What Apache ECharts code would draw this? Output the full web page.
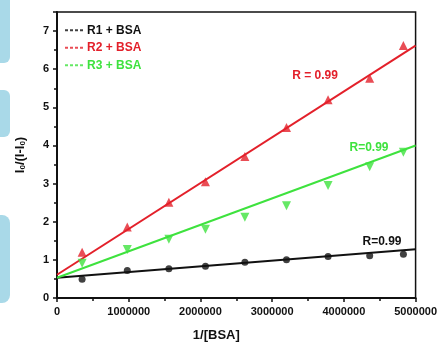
<!DOCTYPE html>
<html><head><meta charset="utf-8">
<script src="https://cdn.jsdelivr.net/npm/echarts@6/dist/echarts.min.js"></script>
<style>html,body{margin:0;padding:0;background:#fff}#c{width:440px;height:347px}</style>
</head><body><div id="c"></div>
<script>
const xVals = [350000, 980000, 1560000, 2070000, 2620000, 3200000, 3780000, 4360000, 4830000];
const r1Vals = [0.49, 0.72, 0.77, 0.83, 0.94, 1.00, 1.09, 1.11, 1.15];
const r2Vals = [1.20, 1.86, 2.51, 3.05, 3.71, 4.47, 5.20, 5.76, 6.62];
const r3Vals = [0.91, 1.27, 1.54, 1.80, 2.12, 2.42, 2.95, 3.44, 3.82];
const fitX = [0, 5000000];
const r1Fit = [0.53, 1.28];
const r2Fit = [0.61, 6.62];
const r3Fit = [0.53, 4.00];
const names = ['R1 + BSA', 'R2 + BSA', 'R3 + BSA'];
const colors = ['#111111', '#e3202a', '#3ee23e'];
const rLabels = ['R=0.99', 'R = 0.99', 'R=0.99'];

const pair = (xs, ys) => xs.map((x, i) => [x, ys[i]]);
const font = 'Liberation Sans, Arial, sans-serif';
const dash = 'path://M0,0h3v2h-3z M5,0h3v2h-3z M10,0h3v2h-3z M15,0h3v2h-3z';

const chart = echarts.init(document.getElementById('c'), null, {renderer: 'canvas'});
const symbols = ['circle', 'triangle', 'path://M0,0L10,0L5,9z'];
const sizes = [7, 9, 9];
const pts = [r1Vals, r2Vals, r3Vals];
const fits = [r1Fit, r2Fit, r3Fit];
const series = [];
for (let i = 0; i < 3; i++) {
  series.push({
    name: names[i], type: 'scatter', symbol: symbols[i], symbolSize: sizes[i],
    itemStyle: {color: colors[i]}, data: pair(xVals, pts[i]), z: 3
  });
  series.push({
    name: names[i] + ' fit', type: 'line', symbol: 'none', showSymbol: false,
    lineStyle: {color: colors[i], width: 2}, data: pair(fitX, fits[i]), z: 2, silent: true
  });
}
chart.setOption({
  animation: false,
  backgroundColor: '#fff',
  grid: {left: 57, right: 20, top: 12, bottom: 44, show: true, borderColor: '#111', borderWidth: 1.5},
  legend: {
    orient: 'vertical', left: 60, top: 19, itemWidth: 18, itemHeight: 2, itemGap: 5,
    selectedMode: false,
    data: names.map((n, i) => ({name: n, icon: dash, itemStyle: {color: colors[i]},
      textStyle: {color: colors[i]}})),
    textStyle: {fontFamily: font, fontWeight: 'bold', fontSize: 12, lineHeight: 12.5, padding: [0, 0, 0, -1]}
  },
  xAxis: {
    type: 'value', min: 0, max: 5000000, interval: 1000000,
    name: '1/[BSA]', nameLocation: 'middle', nameGap: 31,
    nameTextStyle: {fontFamily: font, fontWeight: 'bold', fontSize: 13, color: '#111', padding: [0, 40, 0, 0]},
    axisLine: {onZero: false, lineStyle: {color: '#111', width: 2}},
    axisTick: {show: true, length: 4, lineStyle: {color: '#111', width: 1.5}},
    minorTick: {show: true, splitNumber: 2, length: 3, lineStyle: {color: '#111', width: 1.5}},
    axisLabel: {fontFamily: font, fontWeight: 'bold', fontSize: 11, color: '#111', margin: 8,
      formatter: v => String(v)},
    splitLine: {show: false}
  },
  yAxis: {
    type: 'value', min: 0, max: 7.5, interval: 1,
    name: 'I{s|0}/(I-I{s|0})', nameLocation: 'middle', nameGap: 30,
    nameTextStyle: {fontFamily: font, fontWeight: 'bold', fontSize: 13, color: '#111',
      rich: {s: {fontFamily: font, fontWeight: 'bold', fontSize: 8, color: '#111', verticalAlign: 'bottom', padding: [6, 0, 0, 0]}}},
    axisLine: {onZero: false, lineStyle: {color: '#111', width: 2}},
    axisTick: {show: true, length: 4, lineStyle: {color: '#111', width: 1.5}},
    minorTick: {show: true, splitNumber: 2, length: 3, lineStyle: {color: '#111', width: 1.5}},
    axisLabel: {fontFamily: font, fontWeight: 'bold', fontSize: 11, color: '#111', margin: 8,
      showMaxLabel: false, formatter: v => (Number.isInteger(v) ? String(v) : '')},
    splitLine: {show: false}
  },
  graphic: [
    {type: 'rect', left: -10, top: -10, shape: {width: 20, height: 73, r: 6}, style: {fill: '#a9d9e8'}, silent: true},
    {type: 'rect', left: -10, top: 90, shape: {width: 20, height: 47, r: 6}, style: {fill: '#a9d9e8'}, silent: true},
    {type: 'rect', left: -10, top: 215, shape: {width: 20, height: 88, r: 8}, style: {fill: '#a9d9e8'}, silent: true},
    {type: 'text', x: 315, y: 76, style: {text: rLabels[1], fill: colors[1], font: 'bold 12px ' + font, textAlign: 'center', textVerticalAlign: 'middle'}},
    {type: 'text', x: 369, y: 148, style: {text: rLabels[2], fill: colors[2], font: 'bold 12px ' + font, textAlign: 'center', textVerticalAlign: 'middle'}},
    {type: 'text', x: 382, y: 242, style: {text: rLabels[0], fill: colors[0], font: 'bold 12px ' + font, textAlign: 'center', textVerticalAlign: 'middle'}}
  ],
  series: series
});
</script></body></html>
